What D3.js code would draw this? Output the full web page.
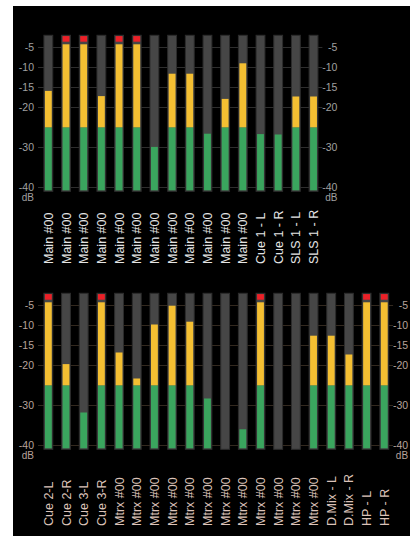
<!DOCTYPE html>
<html><head><meta charset="utf-8">
<script src="https://cdn.jsdelivr.net/npm/d3@7"></script>
<style>html,body{margin:0;padding:0;background:#fff;}svg{display:block;}</style>
</head><body>
<svg id="c" width="410" height="537"></svg>
<script>
// ---- data ----
const topLabels = ["Main #00","Main #00","Main #00","Main #00","Main #00","Main #00","Main #00","Main #00","Main #00","Main #00","Main #00","Main #00","Cue 1 - L","Cue 1 - R","SLS 1 - L","SLS 1 - R"];
const topLevels = [-15.9, 0, 0, -17.2, 0, 0, -29.9, -11.6, -11.6, -26.6, -17.9, -9, -26.7, -26.8, -17.3, -17.3];
const bottomLabels = ["Cue 2-L","Cue 2-R","Cue 3-L","Cue 3-R","Mtrx #00","Mtrx #00","Mtrx #00","Mtrx #00","Mtrx #00","Mtrx #00","Mtrx #00","Mtrx #00","Mtrx #00","Mtrx #00","Mtrx #00","Mtrx #00","D.Mix - L","D.Mix - R","HP - L","HP - R"];
const bottomLevels = [0, -19.7, -31.8, 0, -16.8, -23.3, -9.8, -5.1, -9.1, -28.3, null, -36, 0, null, null, -12.6, -12.6, -17.3, 0, 0];
const tickValues = [-5, -10, -15, -20, -30, -40];
const tickUnit = "dB";

const svg = d3.select("#c");
svg.append("rect").attr("x",13).attr("y",6).attr("width",397).attr("height",530).attr("fill","#000");

const STEP = 17.68, X0 = 39.5;
const GREEN_MAX = -25, YELLOW_MAX = -4.25, RED_LO = -3.6, RED_HI = -2.2, FRAME_TOP = -2, FRAME_BOT = -41;
const TICK_FONT = "'Liberation Sans', Arial, sans-serif";

function meter(labels, levels, yTop, opts) {
  const g = svg.append("g");
  const x = d3.scaleBand().domain(d3.range(labels.length))
    .range([X0, X0 + STEP * labels.length]).paddingInner(0.5).paddingOuter(0.25);
  const y = d3.scaleLinear().domain([-5, -40]).range([yTop, yTop + 140]);
  const xl = X0 - 1.5, xr = X0 + STEP * labels.length;
  // grid lines
  g.append("g").selectAll("line").data(tickValues).join("line")
    .attr("x1", xl).attr("x2", xr)
    .attr("y1", d => Math.round(y(d)) + 0.5).attr("y2", d => Math.round(y(d)) + 0.5)
    .attr("stroke", opts.grid).attr("stroke-width", 1);
  // axes
  const fmt = d => String(d);
  const la = g.append("g").attr("transform", `translate(${xl},0)`)
    .call(d3.axisLeft(y).tickValues(tickValues).tickSize(0).tickPadding(4).tickFormat(fmt));
  const ra = g.append("g").attr("transform", `translate(${xr},0)`)
    .call(d3.axisRight(y).tickValues(tickValues).tickSize(0).tickPadding(15).tickFormat(fmt));
  ra.selectAll("text").attr("text-anchor", "end");
  [la, ra].forEach(a => {
    a.select(".domain").remove();
    a.selectAll("text").attr("fill", opts.tick).attr("font-family", TICK_FONT).attr("font-size", 10.5);
  });
  g.append("text").attr("x", xl - 4).attr("y", y(-40) + 14).attr("text-anchor", "end")
    .attr("fill", opts.tick).attr("font-family", TICK_FONT).attr("font-size", 10).text(tickUnit);
  g.append("text").attr("x", xr + 15).attr("y", y(-40) + 14).attr("text-anchor", "end")
    .attr("fill", opts.tick).attr("font-family", TICK_FONT).attr("font-size", 10).text(tickUnit);

  const bars = g.append("g").selectAll("g").data(levels).join("g")
    .attr("transform", (d, i) => `translate(${x(i)},0)`);
  const bw = x.bandwidth();
  bars.append("rect").attr("x", 0).attr("width", bw)
    .attr("y", y(FRAME_TOP)).attr("height", y(FRAME_BOT) - y(FRAME_TOP))
    .attr("fill", "#464646").attr("stroke", "#2c2c2c").attr("stroke-width", 1);
  // green
  bars.filter(d => d !== null).append("rect").attr("x", 1).attr("width", bw - 2)
    .attr("y", d => y(Math.min(d, GREEN_MAX)))
    .attr("height", d => y(FRAME_BOT) - 1 - y(Math.min(d, GREEN_MAX)))
    .attr("fill", "#3aa55e");
  // yellow
  bars.filter(d => d !== null && d > GREEN_MAX).append("rect").attr("x", 1).attr("width", bw - 2)
    .attr("y", d => y(Math.min(d, YELLOW_MAX)))
    .attr("height", d => y(GREEN_MAX) - y(Math.min(d, YELLOW_MAX)))
    .attr("fill", "#f4bf32");
  // red clip
  bars.filter(d => d !== null && d >= -3).append("rect").attr("x", 1).attr("width", bw - 2)
    .attr("y", y(RED_HI)).attr("height", y(RED_LO) - y(RED_HI))
    .attr("fill", "#ec2027");
  // labels
  g.append("g").selectAll("text").data(labels).join("text")
    .attr("transform", (d, i) => `translate(${x(i) + bw / 2},${opts.labelY}) rotate(-90)`)
    .attr("dy", "0.36em").attr("text-anchor", "start")
    .attr("fill", opts.label).attr("font-family", "'Liberation Sans', Arial, sans-serif").attr("font-size", 12.5)
    .text(d => d);
}

meter(topLabels, topLevels, 47.3, {grid: "#2e2e2e", tick: "#a0a0a0", label: "#e4e4e4", labelY: 264});
meter(bottomLabels, bottomLevels, 305.3, {grid: "#33291f", tick: "#b8a39b", label: "#dcc3b9", labelY: 526});
</script>
</body></html>
